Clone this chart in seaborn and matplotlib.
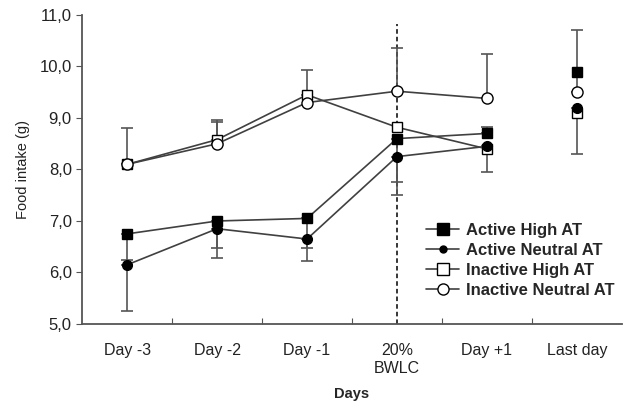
import numpy as np
import pandas as pd
import matplotlib
matplotlib.use("Agg")
import matplotlib.pyplot as plt
import seaborn as sns
from matplotlib.ticker import FuncFormatter

sns.set_style("ticks")
plt.rcParams["font.family"] = ["Liberation Sans", "DejaVu Sans"]

# data
days = ["Day -3", "Day -2", "Day -1", "20%\nBWLC", "Day +1", "Last day"]
active_high = [6.75, 7.00, 7.05, 8.60, 8.70, 9.90]
active_neutral = [6.15, 6.85, 6.65, 8.25, 8.45, 9.20]
inactive_high = [8.10, 8.58, 9.45, 8.82, 8.40, 9.10]
inactive_neutral = [8.10, 8.50, 9.30, 9.52, 9.38, 9.50]

# one-sided error bar ends (nan = no bar)
active_high_low = [6.25, 6.48, 6.47, 7.76, np.nan, np.nan]
active_high_up = [np.nan, np.nan, np.nan, np.nan, 8.82, np.nan]
active_neutral_low = [5.25, 6.28, 6.22, 7.50, 7.95, 8.30]
inactive_high_up = [8.80, 8.97, 9.93, np.nan, np.nan, np.nan]
inactive_neutral_up = [np.nan, 8.92, np.nan, 10.36, 10.25, 10.70]

series = {
    "Active High AT": (active_high, "s", "black", 7, 5),
    "Active Neutral AT": (active_neutral, "o", "black", 7, 5),
    "Inactive High AT": (inactive_high, "s", "white", 7, 3),
    "Inactive Neutral AT": (inactive_neutral, "o", "white", 8, 3),
}
legend_ms = {"Active High AT": 8, "Active Neutral AT": 5,
             "Inactive High AT": 8, "Inactive Neutral AT": 8}

x = np.arange(len(days))

fig = plt.figure(figsize=(6.23, 4.05), dpi=100)
ax = fig.add_axes([0.132, 0.2, 0.866, 0.763])

ax.axvline(3, ymax=0.97, color="black", lw=1.1, ls=(0, (3, 2)), zorder=1)

bar_kw = dict(fmt="none", ecolor="#555555", elinewidth=1.2, capsize=4, capthick=1.2, zorder=2)

def one_sided(vals, ends, up):
    vals = np.array(vals)
    ends = np.array(ends)
    m = ~np.isnan(ends)
    d = np.abs(ends[m] - vals[m])
    z = np.zeros_like(d)
    yerr = [z, d] if up else [d, z]
    ax.errorbar(x[m], vals[m], yerr=yerr, **bar_kw)

one_sided(active_high, active_high_low, False)
one_sided(active_high, active_high_up, True)
one_sided(active_neutral, active_neutral_low, False)
one_sided(inactive_high, inactive_high_up, True)
one_sided(inactive_neutral, inactive_neutral_up, True)

handles = []
for name, (vals, mk, fc, ms, zo) in series.items():
    df = pd.DataFrame({"x": x, "y": vals})
    seg = df.iloc[:5]
    sns.lineplot(data=seg, x="x", y="y", ax=ax, color="#404040", lw=1.2,
                 marker=mk, markersize=ms, markerfacecolor=fc,
                 markeredgecolor="black", markeredgewidth=1.0, zorder=zo)
    ax.plot(x[5:], vals[5:], ls="none", marker=mk, markersize=ms,
            markerfacecolor=fc, markeredgecolor="black", markeredgewidth=1.0, zorder=zo)
    handles.append(plt.Line2D([], [], color="#404040", lw=1.2, marker=mk,
                              markersize=legend_ms[name], markerfacecolor=fc,
                              markeredgecolor="black", label=name))

ax.set_xlim(-0.5, 5.5)
ax.set_ylim(5, 11)
ax.set_yticks(np.arange(5, 11.01, 1))
ax.yaxis.set_major_formatter(FuncFormatter(lambda v, p: f"{v:.1f}".replace(".", ",")))
ax.set_xticks(x[:-1] + 0.5)
ax.set_xticklabels([])
ax.set_xticks(x, minor=True)
ax.set_xticklabels(days, minor=True, fontsize=11.5, color="#222222")
ax.tick_params(axis="x", which="minor", length=0, pad=14)
ax.tick_params(axis="x", which="major", length=4, direction="in", color="#555555")
ax.tick_params(axis="y", labelsize=12, labelcolor="#222222", length=4, color="#555555")

sns.despine(ax=ax)
for s in ["left", "bottom"]:
    ax.spines[s].set_color("#555555")
    ax.spines[s].set_linewidth(1.3)

ax.set_xlabel("Days", fontsize=10.5, fontweight="bold", labelpad=8)
ax.set_ylabel("Food intake (g)", fontsize=10.5, color="#222222", labelpad=7)

ax.legend(handles=handles, loc="upper left", bbox_to_anchor=(0.625, 0.35),
          frameon=False, prop={"weight": "bold", "size": 12}, handlelength=2.0,
          handletextpad=0.4, labelspacing=0.3, borderaxespad=0)

fig.savefig("out.png", dpi=100)
